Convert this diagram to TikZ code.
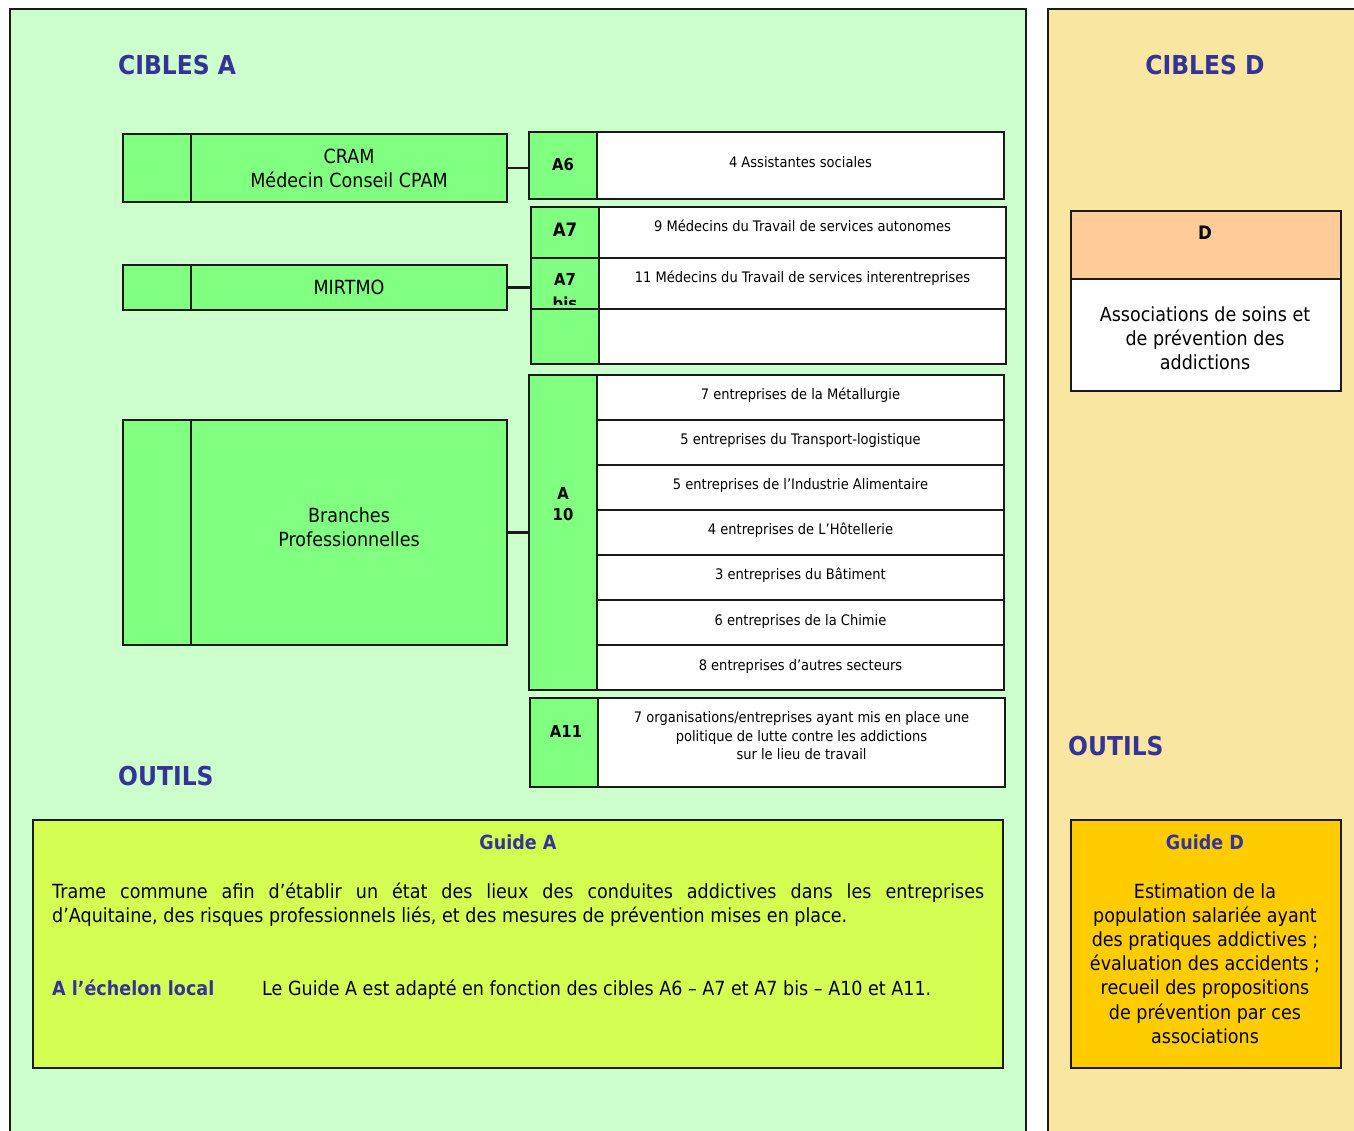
\documentclass[tikz,border=0pt]{standalone}
\usepackage{fontspec}
\setmainfont{DejaVu Sans}[FakeStretch=0.9]
\definecolor{panelA}{HTML}{CCFFCC}
\definecolor{panelD}{HTML}{F9E6A0}
\definecolor{cellG}{HTML}{80FF80}
\definecolor{headD}{HTML}{FFCC99}
\definecolor{guideA}{HTML}{D4FF52}
\definecolor{guideD}{HTML}{FFCC00}
\definecolor{titleblue}{HTML}{333399}
\definecolor{edge}{HTML}{1A1A1A}
\newcommand\bx[6]{\node[#2, minimum width={(#5-#3)*1pt}, minimum height={(#6-#4)*1pt}] (#1) at (#3,#4) {};}
\tikzset{
  panel/.style={draw=edge, line width=2pt, inner sep=0pt, outer sep=0pt, anchor=north west},
  box/.style={draw=edge, line width=2.2pt, inner sep=0pt, outer sep=0pt, anchor=north west},
  gbox/.style={box, fill=cellG},
  wbox/.style={box, fill=white},
  conn/.style={draw=edge, line width=2.6pt},
  title/.style={inner sep=0pt, text=titleblue, font=\bfseries\fontsize{26}{30}\selectfont},
  big/.style={inner sep=0pt, font=\fontsize{19.5}{24}\selectfont, align=center},
  small/.style={inner sep=0pt, font=\fontsize{14.5}{18.5}\selectfont, align=center},
  lab/.style={inner sep=0pt, font=\bfseries\fontsize{16.5}{20}\selectfont, align=center},
  gtitle/.style={inner sep=0pt, text=titleblue, font=\bfseries\fontsize{19.5}{24}\selectfont},
}
\begin{document}
\begin{tikzpicture}[x=1pt,y=-1pt]
\useasboundingbox (0,0) rectangle (1354,1131);
% panels
\bx{pA}{panel, fill=panelA}{10}{9}{1026}{1145}
\bx{pD}{panel, fill=panelD}{1048}{9}{1370}{1145}
% titles
\node[title, anchor=base west] (tA) at (118,74.5) {CIBLES A};
\node[title, anchor=base] (tD) at (1205,74.5) {CIBLES D};
\node[title, anchor=base west] (oA) at (118,785.5) {OUTILS};
\node[title, anchor=base west] (oD) at (1068,755.5) {OUTILS};
% left source boxes
\bx{cramL}{gbox}{123}{134}{191}{202}
\bx{cram}{gbox}{191}{134}{507}{202}
\bx{mirL}{gbox}{123}{265}{191}{310}
\bx{mir}{gbox}{191}{265}{507}{310}
\bx{brL}{gbox}{123}{420}{191}{645}
\bx{br}{gbox}{191}{420}{507}{645}
% A6
\bx{a6g}{gbox}{529}{132}{597}{199}
\bx{a6t}{wbox}{597}{132}{1004}{199}
% A7 group
\bx{a7g}{gbox}{531}{207}{599}{258}
\bx{a7t}{wbox}{599}{207}{1006}{258}
\bx{a7bg}{gbox}{531}{258}{599}{309}
\bx{a7bt}{wbox}{599}{258}{1006}{309}
\bx{a7eg}{gbox}{531}{309}{599}{364}
\bx{a7et}{wbox}{599}{309}{1006}{364}
% A10 group
\bx{a10g}{gbox}{529}{375}{597}{690}
\bx{r1}{wbox}{597}{375}{1004}{420}
\bx{r2}{wbox}{597}{420}{1004}{465}
\bx{r3}{wbox}{597}{465}{1004}{510}
\bx{r4}{wbox}{597}{510}{1004}{555}
\bx{r5}{wbox}{597}{555}{1004}{600}
\bx{r6}{wbox}{597}{600}{1004}{645}
\bx{r7}{wbox}{597}{645}{1004}{690}
% A11
\bx{a11g}{gbox}{530}{698}{598}{787}
\bx{a11t}{wbox}{598}{698}{1005}{787}
% connectors
\draw[conn] (cram.east) -- (cram.east -| a6g.west);
\draw[conn] (mir.east) -- (mir.east -| a7bg.west);
\draw[conn] (br.east) -- (br.east -| a10g.west);
% source texts
\node[big] (cramT) at (349,168) {CRAM\\Médecin Conseil CPAM};
\node[big, anchor=base] (mirT) at (349,295) {MIRTMO};
\node[big] (brT) at (349,527) {Branches\\Professionnelles};
% labels
\node[lab, anchor=base] (a6l) at (563,171) {A6};
\node[lab, anchor=base, font=\bfseries\fontsize{18.5}{20}\selectfont] (a7l) at (565,236.5) {A7};
\begin{scope}
\clip (531,258) rectangle (599,305);
\node[lab, anchor=base] (a7bl) at (565,286) {A7};
\node[lab, anchor=base] (a7bl2) at (565,310) {bis};
\end{scope}
\node[lab, anchor=base] (a10l) at (563,499) {A};
\node[lab, anchor=base] (a10l2) at (563,520) {10};
\node[lab, anchor=base] (a11l) at (566,737) {A11};
% cell texts
\node[small, anchor=base] (a6x) at (800.5,168) {4 Assistantes sociales};
\node[small, anchor=base] (a7x) at (802.5,232) {9 Médecins du Travail de services autonomes};
\node[small, anchor=base] (a7bx) at (802.5,283) {11 Médecins du Travail de services interentreprises};
\node[small, anchor=base] (r1x) at (800.5,399) {7 entreprises de la Métallurgie};
\node[small, anchor=base] (r2x) at (800.5,444) {5 entreprises du Transport-logistique};
\node[small, anchor=base] (r3x) at (800.5,489) {5 entreprises de l’Industrie Alimentaire};
\node[small, anchor=base] (r4x) at (800.5,534) {4 entreprises de L’Hôtellerie};
\node[small, anchor=base] (r5x) at (800.5,579) {3 entreprises du Bâtiment};
\node[small, anchor=base] (r6x) at (800.5,625) {6 entreprises de la Chimie};
\node[small, anchor=base] (r7x) at (800.5,670) {8 entreprises d’autres secteurs};
\node[small] (a11x) at (801.5,736) {7 organisations/entreprises ayant mis en place une\\politique de lutte contre les addictions\\sur le lieu de travail};
% D box
\bx{dh}{box, fill=headD}{1071}{211}{1341}{279}
\bx{db}{wbox}{1071}{279}{1341}{391}
\node[lab, anchor=base, font=\bfseries\fontsize{18.5}{20}\selectfont] (dl) at (1205,240) {D};
\node[big] (dx) at (1205,338) {Associations de soins et\\de prévention des\\addictions};
% Guide A
\bx{ga}{box, fill=guideA}{33}{820}{1003}{1068}
\node[gtitle, anchor=base] (gat) at (518,849) {Guide A};
\node[inner sep=0pt, anchor=base west, text width=932pt, align=justify, font=\fontsize{19.5}{24}\selectfont] (gax) at (52,898) {Trame commune afin d’établir un état des lieux des conduites addictives dans les entreprises\linebreak d’Aquitaine, des risques professionnels liés, et des mesures de prévention mises en place.};
\node[gtitle, anchor=base west] (gal) at (52,995) {A l’échelon local};
\node[big, anchor=base west] (gay) at (262,995) {Le Guide A est adapté en fonction des cibles A6 – A7 et A7 bis – A10 et A11.};
% Guide D
\bx{gd}{box, fill=guideD}{1071}{820}{1341}{1068}
\node[gtitle, anchor=base] (gdt) at (1205,849) {Guide D};
\node[big, font=\fontsize{19.5}{24.2}\selectfont] (gdx) at (1205,963.5) {Estimation de la\\population salariée ayant\\des pratiques addictives ;\\évaluation des accidents ;\\recueil des propositions\\de prévention par ces\\associations};
\end{tikzpicture}
\end{document}
